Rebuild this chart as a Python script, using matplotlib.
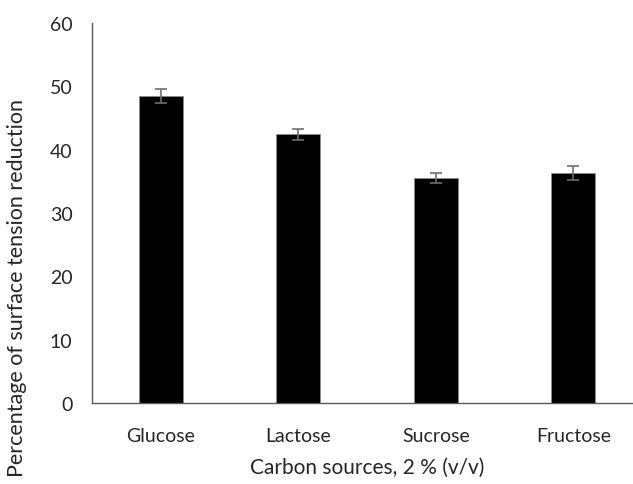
import matplotlib
matplotlib.use("Agg")
import matplotlib.pyplot as plt

# data
sources = ["Glucose", "Lactose", "Sucrose", "Fructose"]
reduction = [48.5, 42.4, 35.5, 36.3]
errors = [1.1, 0.9, 0.8, 1.1]
y_ticks = [0, 10, 20, 30, 40, 50, 60]

plt.rcParams['font.family'] = ['Lato', 'DejaVu Sans']
text_color = '#262626'

fig = plt.figure(figsize=(6.33, 4.85), dpi=100)
ax = fig.add_axes([92/633, 1-404/485, 550/633, 380/485])

x = range(len(sources))
ax.bar(x, reduction, width=0.32, color='black', edgecolor='#8c8c8c', linewidth=0.6,
       yerr=errors, capsize=4.5,
       error_kw=dict(ecolor='#6e6e6e', elinewidth=1.2, capthick=1.2))

ax.set_xlim(-0.5, 3.5)
ax.set_ylim(0, 60)
ax.set_yticks(y_ticks)
ax.set_xticks(list(x))
ax.set_xticklabels(sources)

for side in ['top', 'right']:
    ax.spines[side].set_visible(False)
for side in ['left', 'bottom']:
    ax.spines[side].set_color('#595959')
    ax.spines[side].set_linewidth(1.0)

ax.tick_params(axis='both', length=0, labelsize=14, colors=text_color)
ax.tick_params(axis='y', pad=14)
ax.tick_params(axis='x', pad=17)

ax.set_xlabel("Carbon sources, 2 % (v/v)", fontsize=15, color=text_color)
ax.xaxis.set_label_coords(0.5, -0.142)
ax.set_ylabel("Percentage of surface tension reduction", fontsize=15.5, color=text_color)
ax.yaxis.set_label_coords(-0.118, 0.305)

fig.savefig("out.png", dpi=100)
